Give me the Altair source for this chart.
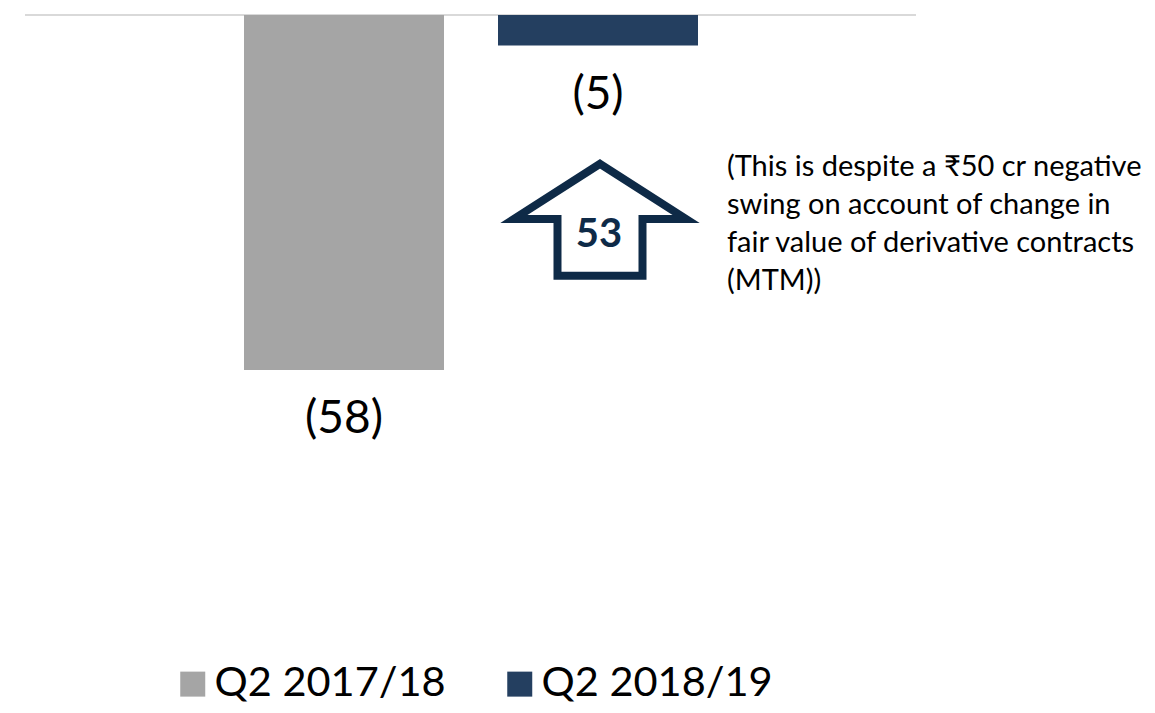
import altair as alt
import pandas as pd

categories = ["Q2 2017/18", "Q2 2018/19"]
values = [-58, -5]
bar_colors = ["#a5a5a5", "#243f60"]
note_lines = [
    "(This is despite a ₹50 cr negative",
    "swing on account of change in",
    "fair value of derivative contracts",
    "(MTM))",
]

FONT = "Lato"
NAVY = "#0e2a47"

bars_df = pd.DataFrame({
    "period": categories,
    "value": values,
    "label": [f"({abs(v)})" for v in values],
})

change = values[1] - values[0]
change_df = pd.DataFrame({
    "period": [categories[1]],
    "value": [(values[0] + values[1]) / 2],
    "label": [str(change)],
    "note": [note_lines],
})

x_enc = alt.X("period:N", sort=categories, axis=None,
              scale=alt.Scale(domain=categories, range=[236, 690],
                              paddingInner=0.2126, paddingOuter=0))
y_scale = alt.Scale(domain=[-60, 0], range=[374.26, 7], nice=False, zero=False)

base = alt.Chart(bars_df)

bars = base.mark_bar(size=200).encode(
    x=x_enc,
    y=alt.Y("value:Q", scale=y_scale, axis=None),
    y2=alt.datum(0),
    color=alt.Color(
        "period:N",
        scale=alt.Scale(domain=categories, range=bar_colors),
        legend=alt.Legend(
            title=None, orient="none", legendX=164, legendY=655,
            direction="horizontal", symbolType="square", symbolSize=625,
            symbolStrokeWidth=0, labelFont=FONT, labelFontSize=41.5,
            labelColor="#000000", labelOffset=1, labelLimit=500,
            columnPadding=53, padding=0,
        ),
    ),
)

baseline = alt.Chart(pd.DataFrame({"v": [0]})).mark_rule(
    color="#d9d9d9", strokeWidth=2
).encode(
    y=alt.Y("v:Q", scale=y_scale, axis=None),
    x=alt.value(17), x2=alt.value(908),
)

labels = base.mark_text(
    font=FONT, fontSize=46, color="#000000", baseline="middle", dy=49
).encode(
    x=x_enc,
    y=alt.Y("value:Q", scale=y_scale, axis=None),
    text="label:N",
)

arrow_path = ("M0,-0.602 L0.925,-0.01 L0.457,-0.01 L0.457,0.602 "
              "L-0.457,0.602 L-0.457,-0.01 L-0.925,-0.01 Z")

chg = alt.Chart(change_df)

arrow = chg.mark_point(
    shape=arrow_path, size=34596, filled=False, stroke=NAVY,
    strokeWidth=8, strokeJoin="miter", opacity=1, yOffset=12, xOffset=2,
).encode(
    x=x_enc,
    y=alt.Y("value:Q", scale=y_scale, axis=None),
)

chg_text = chg.mark_text(
    font=FONT, fontSize=40, fontWeight="bold", color=NAVY,
    baseline="middle", dy=27, dx=1,
).encode(
    x=x_enc,
    y=alt.Y("value:Q", scale=y_scale, axis=None),
    text="label:N",
)

note = chg.mark_text(
    font=FONT, fontSize=29, color="#000000", align="left",
    baseline="middle", dx=129, dy=-41, lineHeight=38,
).encode(
    x=x_enc,
    y=alt.Y("value:Q", scale=y_scale, axis=None),
    text="note",
)

chart = alt.layer(baseline, bars, labels, arrow, chg_text, note).properties(
    width=1139, height=697, padding=0, autosize=alt.AutoSizeParams(type="none"),
).configure_view(strokeWidth=0)

chart.save("out.html", embed_options={"renderer": "svg", "actions": False})
